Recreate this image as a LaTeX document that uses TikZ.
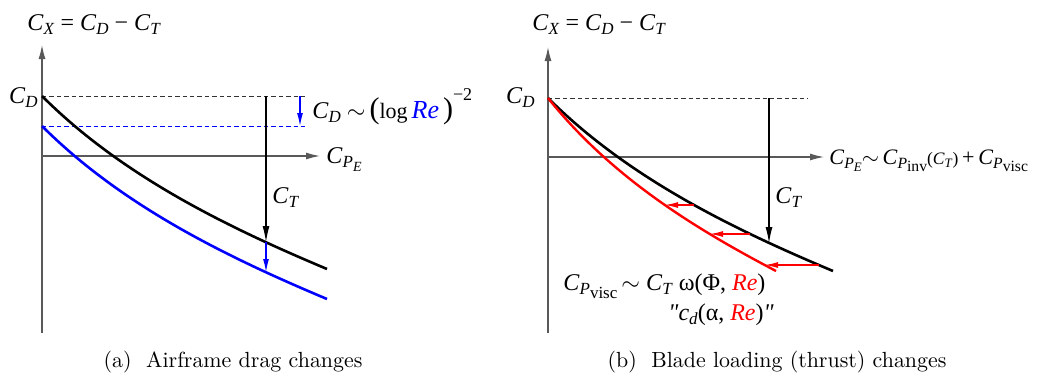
\documentclass[tikz,border=0pt]{standalone}
\usepackage{fontspec}
\newfontfamily\tms{Liberation Serif}
\usetikzlibrary{arrows.meta}
\usepackage{xcolor}

\newcommand{\sy}[1]{\textit{#1}}
\newcommand{\lw}[1]{\raisebox{-0.45ex}{\fontsize{8.5}{9}\selectfont #1}}
\newcommand{\llw}[1]{\raisebox{-0.4ex}{\fontsize{7}{8}\selectfont #1}}
\newcommand{\bigp}[1]{{\fontsize{15}{15}\selectfont #1}}
\newcommand{\dragcurve}{(0,0) .. controls (80,80) and (185,131) .. (285,173)}

\begin{document}
\begin{tikzpicture}[
    x=0.5pt, y=-0.5pt,
    axis/.style={draw=black!65, line width=0.6pt, -{Latex[length=7pt, width=3.5pt]}},
    dash line/.style={draw=black!80, line width=0.5pt, dash pattern=on 2.2pt off 1.5pt},
    blue dash/.style={draw=blue, line width=0.5pt, dash pattern=on 2.2pt off 1.5pt},
    main curve/.style={line width=1.3pt},
    down arrow/.style={line width=0.6pt, -{Latex[length=8pt, width=3.5pt]}},
    col arrow/.style={line width=0.6pt, -{Latex[length=6.5pt, width=3pt]}},
    label/.style={font=\tms\fontsize{12}{14}\selectfont, inner sep=0pt},
    caption/.style={font=\fontsize{10.95}{13}\selectfont, inner sep=0pt}
]
    \useasboundingbox (0,0) rectangle (1039,377);

    % (a) airframe drag
    \coordinate (ya0) at (42,333);
    \coordinate (ya1) at (42,45);
    \coordinate (xa0) at (42,156);
    \coordinate (xa1) at (320,156);
    \coordinate (cda) at (42,96);
    \coordinate (cda1) at (305,96);
    \coordinate (cdb) at (42,126);
    \coordinate (cdb1) at (305,126);
    \coordinate (ta0) at (266,96);
    \coordinate (ta1) at (266,242);
    \coordinate (ta2) at (266,272);
    \coordinate (ra0) at (300,96);
    \coordinate (ra1) at (300,126);

    \draw[axis] (ya0) -- (ya1);
    \draw[axis] (xa0) -- (xa1);
    \draw[dash line] (cda) -- (cda1);
    \draw[blue dash] (cdb) -- (cdb1);
    \draw[main curve, shift={(42,96)}] \dragcurve;
    \draw[main curve, blue, shift={(42,126)}] \dragcurve;
    \draw[down arrow] (ta0) -- (ta1);
    \draw[col arrow, blue] (ta1) -- (ta2);
    \draw[col arrow, blue] (ra0) -- (ra1);

    \node[label, anchor=base west] (titlea) at (27,30) {\sy{C}\lw{\sy{X}} = \sy{C}\lw{\sy{D}} − \sy{C}\lw{\sy{T}}};
    \node[label, anchor=base east] (cdlabela) at (38,103) {\sy{C}\lw{\sy{D}}};
    \node[label, anchor=base west] (relabel) at (312,118) {\sy{C}\lw{\sy{D}}\ $\sim$\,\bigp{(}{\fontsize{11}{12}\selectfont log}\,\textcolor{blue}{\fontsize{13}{14}\selectfont\sy{Re}}\,\bigp{)}\raisebox{9pt}{\fontsize{9}{9}\selectfont −2}};
    \node[label, anchor=base west] (cpea) at (326,163) {\sy{C}\lw{\sy{P}\llw{\sy{E}}}};
    \node[label, anchor=base west] (cta) at (272,203) {\sy{C}\lw{\sy{T}}};
    \node[caption, anchor=base] (capa) at (233,367) {(a)\ \ Airframe drag changes};

    % (b) blade loading
    \coordinate (yb0) at (548,333);
    \coordinate (yb1) at (548,47);
    \coordinate (xb0) at (548,157);
    \coordinate (xb1) at (824,157);
    \coordinate (cdc) at (548,98);
    \coordinate (cdc1) at (808,98);
    \coordinate (tb0) at (769,98);
    \coordinate (tb1) at (769,243);
    \coordinate (bk1) at (694,205);
    \coordinate (rd1) at (665,205);
    \coordinate (bk2) at (750,234);
    \coordinate (rd2) at (710,234);
    \coordinate (bk3) at (819,265);
    \coordinate (rd3) at (765,265);

    \draw[axis] (yb0) -- (yb1);
    \draw[axis] (xb0) -- (xb1);
    \draw[dash line] (cdc) -- (cdc1);
    \draw[main curve, shift={(548,98)}] \dragcurve;
    \draw[line width=1.2pt, red, shift={(548,98)}, xscale=0.8] \dragcurve;
    \draw[down arrow] (tb0) -- (tb1);
    \draw[col arrow, red] (bk1) -- (rd1);
    \draw[col arrow, red] (bk2) -- (rd2);
    \draw[col arrow, red] (bk3) -- (rd3);

    \node[label, anchor=base west] (titleb) at (532,30) {\sy{C}\lw{\sy{X}} = \sy{C}\lw{\sy{D}} − \sy{C}\lw{\sy{T}}};
    \node[label, anchor=base east] (cdlabelb) at (535,103) {\sy{C}\lw{\sy{D}}};
    \node[label, anchor=base west] (cpeb) at (829,164) {\scalebox{0.92}{\sy{C}\lw{\sy{P}\llw{\sy{E}}}$\sim$\,\sy{C}\lw{\sy{P}\lw{inv}}{\fontsize{9.5}{10}\selectfont(\sy{C}\llw{\sy{T}})}\,+\,\sy{C}\lw{\sy{P}\lw{visc}}}};
    \node[label, anchor=base west] (ctb) at (775,203) {\sy{C}\lw{\sy{T}}};
    \node[label, anchor=base west] (viscb) at (563,290) {\sy{C}\lw{\sy{P}\lw{visc}}\,$\sim$\ \sy{C}\lw{\sy{T}}\ ω(Φ, \textcolor{red}{\sy{Re}})};
    \node[label, anchor=base west] (cdb2) at (668,320) {\sy{"}\sy{c}\lw{\sy{d}}(α, \textcolor{red}{\sy{Re}})\sy{"}};
    \node[caption, anchor=base] (capb) at (777,367) {(b)\ \ Blade loading (thrust) changes};
\end{tikzpicture}
\end{document}
